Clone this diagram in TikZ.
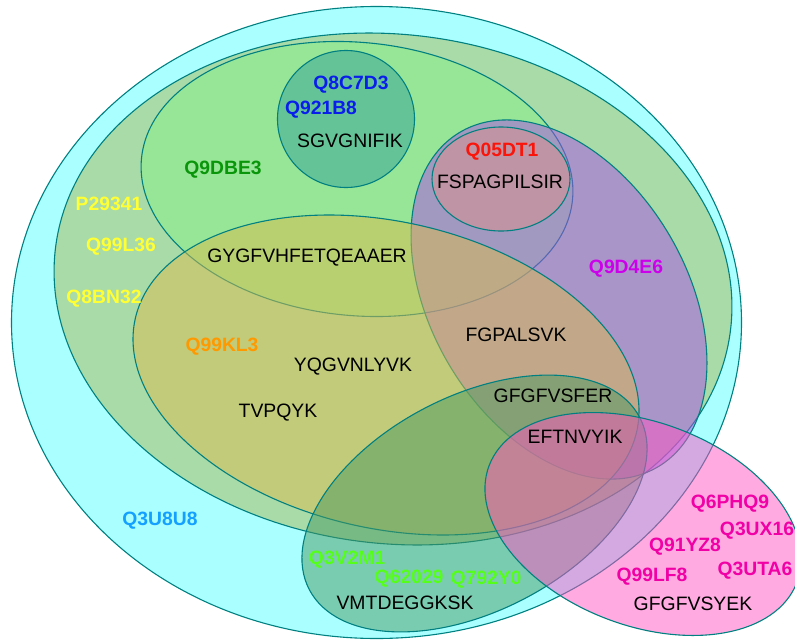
\documentclass[tikz,border=0pt]{standalone}
\usepackage{fontspec}
\setmainfont{Liberation Sans}
\definecolor{edgeteal}{RGB}{0,128,128}
\definecolor{fillA}{RGB}{85,255,255}
\definecolor{fillB}{RGB}{166,183,81}
\definecolor{fillC}{RGB}{136,240,136}
\definecolor{fillD}{RGB}{52,162,154}
\definecolor{fillE}{RGB}{222,144,138}
\definecolor{fillF}{RGB}{172,80,232}
\definecolor{fillG}{RGB}{220,189,76}
\definecolor{fillH}{RGB}{74,153,97}
\definecolor{fillI}{RGB}{255,85,195}
\definecolor{labA}{RGB}{20,160,255}
\definecolor{labB}{RGB}{255,255,51}
\definecolor{labC}{RGB}{10,150,10}
\definecolor{labD}{RGB}{10,30,235}
\definecolor{labE}{RGB}{250,20,10}
\definecolor{labF}{RGB}{205,0,235}
\definecolor{labG}{RGB}{255,153,0}
\definecolor{labH}{RGB}{85,255,25}
\definecolor{labI}{RGB}{240,0,165}
\begin{document}
\begin{tikzpicture}[x=1pt,y=-1pt,
  set/.style={draw=edgeteal, line width=1.1pt, fill opacity=0.5},
  seq/.style={font=\fontsize{19.4}{20}\selectfont, text=black, inner sep=0pt},
  pid/.style={font=\fontsize{19.3}{20}\selectfont\bfseries, inner sep=0pt},
]
\useasboundingbox (0,0) rectangle (795,640);
\clip (0,0) rectangle (795,640);

% set outlines, drawn back to front
\path[set, fill=fillA] (376.5,322.5) ellipse [x radius=365, y radius=316];
\path[set, fill=fillB, rotate around={-6.9:(393,289)}] (393,289) ellipse [x radius=340, y radius=254.5];
\path[set, fill=fillC, rotate around={-5.4:(357,179)}] (357,179) ellipse [x radius=216.5, y radius=136.6];
\path[set, fill=fillD] (346,119) circle [radius=68.5];
\path[set, fill=fillF, rotate around={-59.4:(559,299.5)}] (559,299.5) ellipse [x radius=194.4, y radius=127.8];
\path[set, fill=fillE] (501,179) ellipse [x radius=69, y radius=52];
\path[set, fill=fillG, rotate around={-12.7:(386,375)}] (386,375) ellipse [x radius=257, y radius=153.4];
\path[set, fill=fillH, rotate around={27.5:(474.5,503.5)}] (474.5,503.5) ellipse [x radius=186.3, y radius=107.5];
\path[set, fill=fillI, rotate around={-20.8:(643,524)}] (643,524) ellipse [x radius=164.6, y radius=101.5];

% protein identifiers
\node[pid, text=labD] (q8c7d3) at (351,85) {Q8C7D3};
\node[pid, text=labD] (q921b8) at (321,110) {Q921B8};
\node[pid, text=labC] (q9dbe3) at (223,170) {Q9DBE3};
\node[pid, text=labB] (p29341) at (109,204) {P29341};
\node[pid, text=labB] (q99l36) at (121,247) {Q99L36};
\node[pid, text=labB] (q8bn32) at (104,299) {Q8BN32};
\node[pid, text=labE] (q05dt1) at (502,152) {Q05DT1};
\node[pid, text=labF] (q9d4e6) at (626,269) {Q9D4E6};
\node[pid, text=labG] (q99kl3) at (222,347) {Q99KL3};
\node[pid, text=labA] (q3u8u8) at (160,521) {Q3U8U8};
\node[pid, text=labH] (q3v2m1) at (347,560) {Q3V2M1};
\node[pid, text=labH] (q62029) at (409,579) {Q62029};
\node[pid, text=labH] (q792y0) at (486,580) {Q792Y0};
\node[pid, text=labI] (q6phq9) at (730,504) {Q6PHQ9};
\node[pid, text=labI] (q3ux16) at (757,531) {Q3UX16};
\node[pid, text=labI] (q91yz8) at (685,547) {Q91YZ8};
\node[pid, text=labI] (q3uta6) at (755,571) {Q3UTA6};
\node[pid, text=labI] (q99lf8) at (652,577) {Q99LF8};

% peptide sequences
\node[seq] (sgvgnifik) at (350,141) {SGVGNIFIK};
\node[seq] (fspagpilsir) at (500,182) {FSPAGPILSIR};
\node[seq] (gygfvhfetqeaaer) at (307,258) {GYGFVHFETQEAAER};
\node[seq] (fgpalsvk) at (516,335) {FGPALSVK};
\node[seq] (yqgvnlyvk) at (353,367) {YQGVNLYVK};
\node[seq] (gfgfvsfer) at (553,396) {GFGFVSFER};
\node[seq] (tvpqyk) at (278,413) {TVPQYK};
\node[seq] (eftnvyik) at (575,437) {EFTNVYIK};
\node[seq] (vmtdeggksk) at (405,603) {VMTDEGGKSK};
\node[seq] (gfgfvsyek) at (693,604) {GFGFVSYEK};
\end{tikzpicture}
\end{document}
